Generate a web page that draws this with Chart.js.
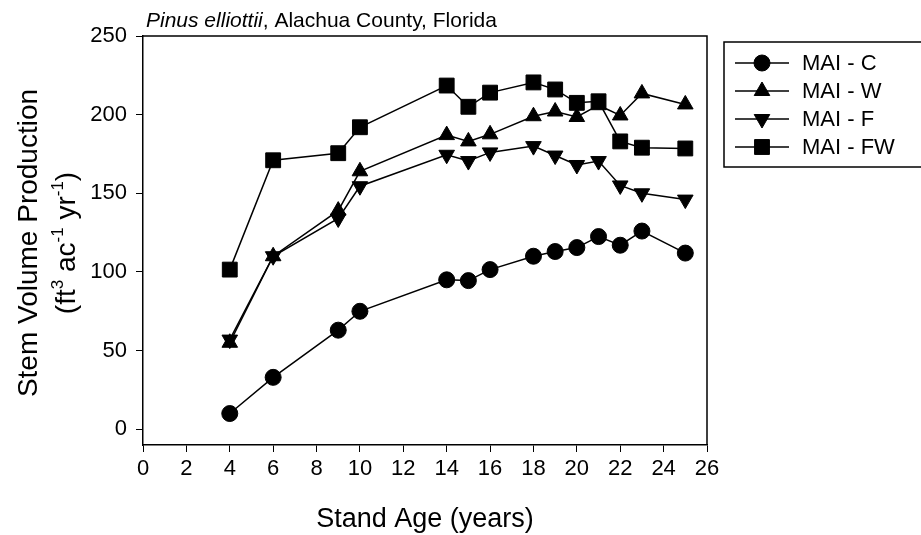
<!DOCTYPE html>
<html>
<head>
<meta charset="utf-8">
<script src="https://cdn.jsdelivr.net/npm/chart.js@4"></script>
<style>
  html, body { margin: 0; padding: 0; background: #fff; }
  #wrap { width: 921px; height: 535px; }
</style>
</head>
<body>
<div id="wrap"><canvas id="chart" width="921" height="535"></canvas></div>
<script>
// stand age (years)
const ages = [4, 6, 9, 10, 14, 15, 16, 18, 19, 20, 21, 22, 23, 25];

// mean annual increment, ft3/ac/yr
const maiC  = [10, 33, 63, 75, 95, 94.5, 101.5, 110, 113, 115.5, 122.5, 117, 126, 112];
const maiW  = [55, 110, 139, 164, 187, 183, 187.5, 199, 202, 198.5, 206, 199.5, 213.5, 206.5];
const maiF  = [57, 110, 134, 154.5, 174.5, 170.5, 176, 180, 174, 168, 170.5, 155, 150, 146];
const maiFW = [101.5, 171, 175.5, 192, 218.5, 205, 214, 220.5, 216, 207.5, 208.5, 183, 179, 178.5];

const xTicks = [0, 2, 4, 6, 8, 10, 12, 14, 16, 18, 20, 22, 24, 26];
const yTicks = [0, 50, 100, 150, 200, 250];

const seriesNames = ['MAI - C', 'MAI - W', 'MAI - F', 'MAI - FW'];

const FONT = '"Liberation Sans", Arial, Helvetica, sans-serif';

function pts(vals) {
  return ages.map((a, i) => ({ x: a, y: vals[i] }));
}

const markers = [
  { pointStyle: 'circle',   pointRadius: 8,    pointRotation: 0 },
  { pointStyle: 'triangle', pointRadius: 9,    pointRotation: 0 },
  { pointStyle: 'triangle', pointRadius: 9,    pointRotation: 180 },
  { pointStyle: 'rect',     pointRadius: 10.5, pointRotation: 0 }
];

const datasets = [maiC, maiW, maiF, maiFW].map((vals, i) => ({
  label: seriesNames[i],
  data: pts(vals),
  borderColor: '#000',
  backgroundColor: '#000',
  borderWidth: 1.5,
  pointBorderWidth: 1,
  pointBorderColor: '#000',
  pointBackgroundColor: '#000',
  showLine: true,
  tension: 0,
  ...markers[i]
}));

// frame, titles and the boxed legend
const decor = {
  id: 'decor',
  afterDraw(chart) {
    const ctx = chart.ctx;
    const a = chart.chartArea;
    ctx.save();

    // top and right sides of the frame
    ctx.strokeStyle = '#000';
    ctx.lineWidth = 1.5;
    ctx.beginPath();
    ctx.moveTo(a.left, a.top);
    ctx.lineTo(a.right, a.top);
    ctx.lineTo(a.right, a.bottom);
    ctx.stroke();

    ctx.fillStyle = '#000';
    ctx.textBaseline = 'alphabetic';

    // chart title
    ctx.textAlign = 'left';
    ctx.font = 'italic 21px ' + FONT;
    const it = 'Pinus elliottii';
    ctx.fillText(it, 146, 27);
    const w1 = ctx.measureText(it).width;
    ctx.font = '21px ' + FONT;
    ctx.fillText(', Alachua County, Florida', 146 + w1, 27);

    // x axis title
    ctx.textAlign = 'center';
    ctx.font = '27px ' + FONT;
    ctx.fillText('Stand Age (years)', (a.left + a.right) / 2, 527);

    // y axis title, two lines, rotated
    const cy = 243;
    ctx.save();
    ctx.translate(37, cy);
    ctx.rotate(-Math.PI / 2);
    ctx.font = '28px ' + FONT;
    ctx.textAlign = 'center';
    ctx.fillText('Stem Volume Production', 0, 0);
    ctx.restore();

    const parts = [
      ['(ft', false], ['3', true], [' ac', false], ['-1', true],
      [' yr', false], ['-1', true], [')', false]
    ];
    const big = '28px ' + FONT, small = '17px ' + FONT;
    let total = 0;
    parts.forEach(p => { ctx.font = p[1] ? small : big; total += ctx.measureText(p[0]).width; });
    ctx.save();
    ctx.translate(75, cy);
    ctx.rotate(-Math.PI / 2);
    ctx.textAlign = 'left';
    let px = -total / 2;
    parts.forEach(p => {
      ctx.font = p[1] ? small : big;
      ctx.fillText(p[0], px, p[1] ? -12 : 0);
      px += ctx.measureText(p[0]).width;
    });
    ctx.restore();

    // legend box
    ctx.lineWidth = 1.5;
    ctx.strokeRect(724, 42, 210, 125);
    const rowY = [63, 91, 119, 147];
    chart.data.datasets.forEach((ds, i) => {
      const y = rowY[i];
      ctx.strokeStyle = '#000';
      ctx.fillStyle = '#000';
      ctx.lineWidth = 1.5;
      ctx.beginPath();
      ctx.moveTo(735, y);
      ctx.lineTo(789, y);
      ctx.stroke();
      ctx.lineWidth = 1;
      Chart.helpers.drawPoint(ctx, {
        pointStyle: ds.pointStyle,
        rotation: ds.pointRotation,
        radius: ds.pointRadius,
        borderWidth: 1
      }, 762, y);
      ctx.font = '22px ' + FONT;
      ctx.textAlign = 'left';
      ctx.textBaseline = 'middle';
      ctx.fillText(ds.label, 802, y + 1);
    });
    ctx.restore();
  }
};

new Chart(document.getElementById('chart'), {
  type: 'scatter',
  data: { datasets },
  options: {
    responsive: false,
    animation: false,
    layout: { padding: { top: 36, right: 214, left: 0, bottom: 0 } },
    plugins: {
      legend: { display: false },
      title: { display: false },
      tooltip: { enabled: false }
    },
    scales: {
      x: {
        type: 'linear',
        min: 0,
        max: 26,
        afterFit(s) { s.height = 90; },
        afterBuildTicks(s) { s.ticks = xTicks.map(v => ({ value: v })); },
        border: { display: true, color: '#000', width: 1.5 },
        grid: { drawOnChartArea: false, drawTicks: true, tickLength: 7, color: '#000', lineWidth: 1 },
        ticks: { color: '#000', padding: 4, font: { family: FONT, size: 22 }, maxRotation: 0, autoSkip: false }
      },
      y: {
        type: 'linear',
        min: -10,
        max: 250,
        afterFit(s) { s.width = 143; },
        afterBuildTicks(s) { s.ticks = yTicks.map(v => ({ value: v })); },
        border: { display: true, color: '#000', width: 1.5 },
        grid: { drawOnChartArea: false, drawTicks: true, tickLength: 7, color: '#000', lineWidth: 1 },
        ticks: { color: '#000', padding: 9, font: { family: FONT, size: 22 }, autoSkip: false }
      }
    }
  },
  plugins: [decor]
});
</script>
</body>
</html>
